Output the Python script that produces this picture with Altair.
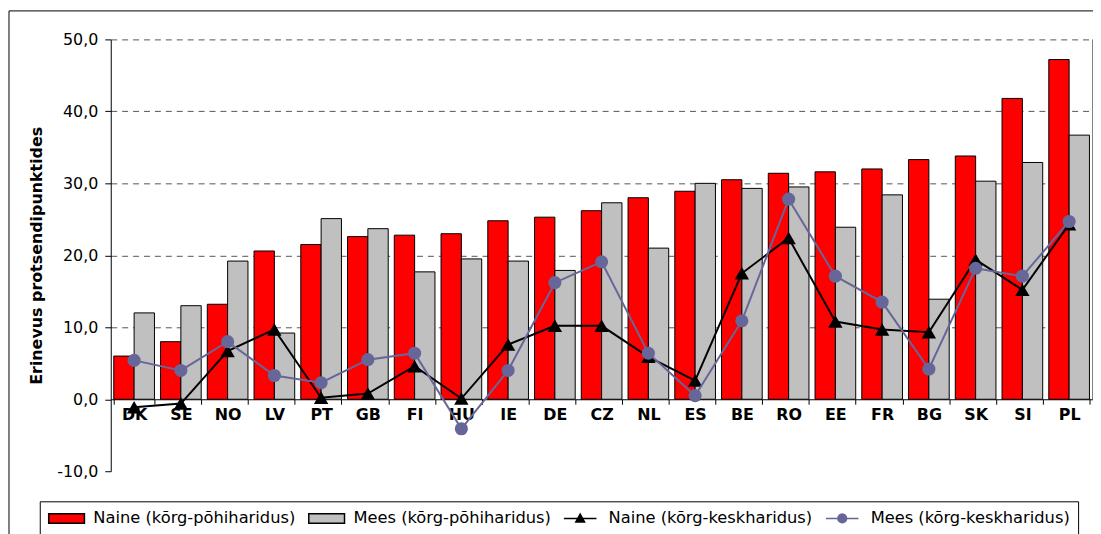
import altair as alt
import pandas as pd

countries = ["DK", "SE", "NO", "LV", "PT", "GB", "FI", "HU", "IE", "DE", "CZ",
             "NL", "ES", "BE", "RO", "EE", "FR", "BG", "SK", "SI", "PL"]
naine_pohi = [6.0, 8.0, 13.2, 20.6, 21.5, 22.6, 22.8, 23.0, 24.8, 25.3, 26.2,
              28.0, 28.9, 30.5, 31.4, 31.6, 32.0, 33.3, 33.8, 41.8, 47.2]
mees_pohi = [12.0, 13.0, 19.2, 9.2, 25.1, 23.7, 17.7, 19.5, 19.2, 17.9, 27.3,
             21.0, 30.0, 29.3, 29.5, 23.9, 28.4, 13.9, 30.3, 32.9, 36.7]
naine_kesk = [-1.1, -0.6, 6.7, 9.7, 0.2, 0.8, 4.6, 0.1, 7.6, 10.2, 10.2,
              5.9, 2.6, 17.5, 22.4, 10.8, 9.7, 9.3, 19.4, 15.2, 24.3]
mees_kesk = [5.4, 4.0, 8.0, 3.3, 2.3, 5.5, 6.4, -4.1, 4.0, 16.2, 19.1,
             6.4, 0.5, 10.9, 27.8, 17.1, 13.5, 4.2, 18.2, 17.1, 24.7]

series = ["Naine (kõrg-põhiharidus)", "Mees (kõrg-põhiharidus)",
          "Naine (kõrg-keskharidus)", "Mees (kõrg-keskharidus)"]
fill_colors = ["#FF0000", "#C0C0C0", "#000000", "#666699"]
stroke_colors = ["#000000", "#000000", "#000000", "#666699"]
# legend symbol paths (unit = 8 px), drawn to the right of the symbol box
legend_shapes = [
    "M-1,-0.6H3.5V0.6H-1Z",
    "M-1,-0.6H3.5V0.6H-1Z",
    "M-1,0H3.1M1.05,-0.55L1.6,0.45L0.5,0.45Z",
    "M-1,0H3.1M1.6,0A0.55,0.55 0 1 1 0.5,0A0.55,0.55 0 1 1 1.6,0Z",
]
y_ticks = [-10, 0, 10, 20, 30, 40, 50]

FONT = "DejaVu Sans"

bars_df = pd.DataFrame({
    "land": countries * 2,
    "sari": [series[0]] * len(countries) + [series[1]] * len(countries),
    "v": naine_pohi + mees_pohi,
})
naine_df = pd.DataFrame({"land": countries, "sari": series[2], "v": naine_kesk})
mees_df = pd.DataFrame({"land": countries, "sari": series[3], "v": mees_kesk})
legend_df = pd.DataFrame({"sari": series})
one_df = pd.DataFrame({"a": [0]})

fill_scale = alt.Scale(domain=series, range=fill_colors)
stroke_scale = alt.Scale(domain=series, range=stroke_colors)
shape_scale = alt.Scale(domain=series, range=legend_shapes)

leg = alt.Legend(
    title=None, orient="none", legendX=-71.5, legendY=465.3,
    direction="horizontal", columns=4, symbolSize=256, symbolStrokeWidth=1.5,
    labelFont=FONT, labelFontSize=16.4, labelColor="black", labelLimit=400,
    labelOffset=28, columnPadding=10, padding=8, strokeColor="black",
    fillColor="white", symbolOpacity=1,
)

x_enc = alt.X(
    "land:N", sort=countries,
    scale=alt.Scale(paddingInner=0.13, paddingOuter=0.065),
    axis=alt.Axis(
        title=None, labelAngle=0, labelFont=FONT, labelFontSize=16,
        labelFontWeight="bold", labelColor="black", tickBand="extent",
        tickSize=5, tickColor="black", domainColor="black", offset=-72.5,
        labelPadding=2, grid=False, zindex=0,
    ),
)
y_enc = alt.Y(
    "v:Q",
    scale=alt.Scale(domain=[-10, 50], nice=False, zero=False),
    axis=alt.Axis(
        values=y_ticks, labelExpr="datum.value + ',0'", labelFont=FONT,
        labelFontSize=16, labelColor="black", labelPadding=7, tickSize=6,
        tickColor="black", domainColor="black", grid=True, gridDash=[6, 5],
        gridColor="#555555",
        gridOpacity={"condition": {"test": "datum.value <= 0", "value": 0}, "value": 1},
        title="Erinevus protsendipunktides", titleFont=FONT, titleFontSize=16,
        titleFontWeight="bold", titleColor="black", titlePadding=12, zindex=0,
    ),
)

frame = alt.Chart(one_df).mark_rect(fillOpacity=0, stroke="black", strokeWidth=1).encode(
    x=alt.value(-102.5), x2=alt.value(1300), y=alt.value(-28.7), y2=alt.value(800)
)

legend_layer = alt.Chart(legend_df).mark_point(filled=True, size=0).encode(
    fill=alt.Fill("sari:N", scale=fill_scale, legend=leg),
    stroke=alt.Stroke("sari:N", scale=stroke_scale, legend=leg),
    shape=alt.Shape("sari:N", scale=shape_scale, legend=leg),
)

bars = alt.Chart(bars_df).mark_bar(stroke="black", strokeWidth=1).encode(
    x=x_enc, y=y_enc,
    xOffset=alt.XOffset("sari:N", sort=series[:2], scale=alt.Scale(paddingInner=0, paddingOuter=0)),
    fill=alt.Fill("sari:N", scale=fill_scale, legend=leg),
)

right_edge = alt.Chart(one_df).mark_rule(color="#808080", strokeWidth=1).encode(
    x=alt.value(989), y=alt.datum(50), y2=alt.datum(0)
)

naine_line = alt.Chart(naine_df).mark_line(strokeWidth=2).encode(
    x=x_enc, y=y_enc, stroke=alt.Stroke("sari:N", scale=stroke_scale, legend=leg),
)
naine_pts = alt.Chart(naine_df).mark_point(shape="triangle-up", filled=True, size=210, opacity=1).encode(
    x=x_enc, y=y_enc, fill=alt.Fill("sari:N", scale=fill_scale, legend=leg),
)
mees_line = alt.Chart(mees_df).mark_line(strokeWidth=2).encode(
    x=x_enc, y=y_enc, stroke=alt.Stroke("sari:N", scale=stroke_scale, legend=leg),
)
mees_pts = alt.Chart(mees_df).mark_point(shape="circle", filled=True, size=175, opacity=1).encode(
    x=x_enc, y=y_enc, fill=alt.Fill("sari:N", scale=fill_scale, legend=leg),
)

chart = alt.layer(
    frame, legend_layer, bars, right_edge, naine_line, naine_pts, mees_line, mees_pts
).properties(
    width=989, height=435,
    autosize=alt.AutoSizeParams(type="none"),
    padding={"left": 103.5, "top": 29.7, "right": 0.5, "bottom": 61.3},
).configure(
    font=FONT,
).configure_view(
    stroke=None,
)

chart.save("out.html", embed_options={"renderer": "svg", "actions": False})
